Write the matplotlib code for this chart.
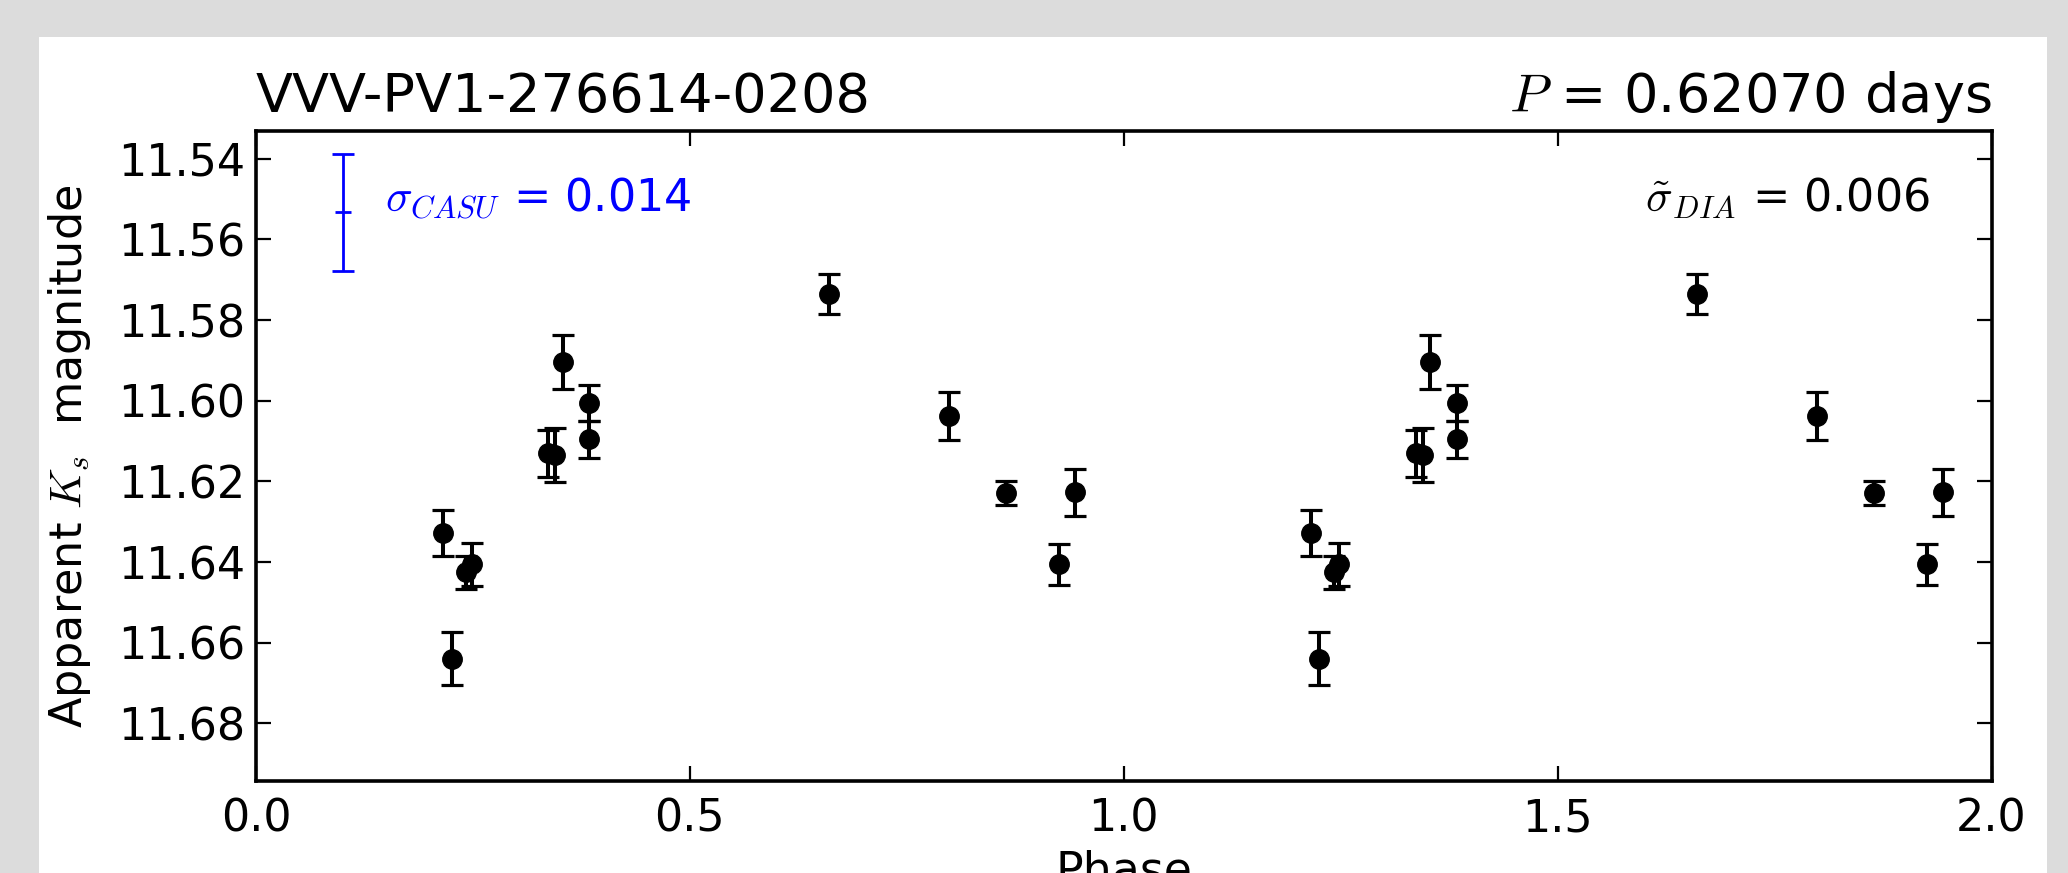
import numpy as np
import matplotlib
matplotlib.use("Agg")
import matplotlib.pyplot as plt
from matplotlib.patches import Rectangle

plt.rcParams['font.family'] = ['DejaVu Sans']
plt.rcParams['mathtext.fontset'] = 'cm'

# ---- data ----
phase = [0.2159, 0.2255, 0.2420, 0.2485, 0.3369, 0.3446, 0.3534,
         0.3837, 0.3837, 0.6607, 0.7986, 0.8643, 0.9253, 0.9438]
mag = [11.6328, 11.6640, 11.6425, 11.6406, 11.6130, 11.6134, 11.5904,
       11.6005, 11.6096, 11.5735, 11.6038, 11.6229, 11.6406, 11.6227]
err = [0.0056, 0.0066, 0.0041, 0.0054, 0.0058, 0.0067, 0.0066,
       0.0045, 0.0047, 0.0049, 0.0060, 0.0029, 0.0051, 0.0059]

casu_x = [0.10]
casu_y = [11.5532]
casu_err = [0.0145]

star_name = "VVV-PV1-276614-0208"
period_label = r"$P$ = 0.62070 days"
casu_label = r"$\sigma_{CASU}$ = 0.014"
dia_label = r"$\tilde{\sigma}_{DIA}$ = 0.006"
xticks = [0.0, 0.5, 1.0, 1.5, 2.0]
yticks = [11.54, 11.56, 11.58, 11.60, 11.62, 11.64, 11.66, 11.68]

# ---- figure ----
fig = plt.figure(figsize=(20.68, 8.73), dpi=100, facecolor='#dcdcdc')
fig.patches.append(Rectangle((39/2068, 0), (2047-39)/2068, 1-37/873,
                             transform=fig.transFigure, facecolor='white',
                             edgecolor='none', zorder=-10))
ax = fig.add_axes([256/2068, 1-781/873, (1991.6-256)/2068, (781-131)/873])

ph = np.array(phase)
ph_all = np.concatenate([ph, ph + 1.0])
mag_all = np.concatenate([mag, mag])
err_all = np.concatenate([err, err])

ax.errorbar(ph_all, mag_all, yerr=err_all, fmt='o', color='black',
            ms=14, elinewidth=2.9, capsize=8, capthick=2.3, zorder=3)
ax.errorbar(casu_x, casu_y, yerr=casu_err, fmt='_', color='#0000ff',
            ms=11.5, mew=2.0, elinewidth=2.0, capsize=8, capthick=2.0)

ax.set_xlim(0, 2)
ax.set_ylim(11.6943, 11.5331)
ax.set_xticks(xticks)
ax.set_xticklabels([f"{t:.1f}" for t in xticks])
ax.set_yticks(yticks)
ax.set_yticklabels([f"{t:.2f}" for t in yticks])

for s in ax.spines.values():
    s.set_linewidth(2.6)
ax.tick_params(direction='in', top=True, right=True, length=10.5, width=1.6,
               labelsize=32)
ax.tick_params(axis='x', pad=12)
ax.tick_params(axis='y', pad=8)

ax.text(0.0743, 0.897, casu_label, transform=ax.transAxes, color='#0000ff',
        fontsize=32, ha='left', va='center')
ax.text(0.9645, 0.897, dia_label, transform=ax.transAxes, color='black',
        fontsize=32, ha='right', va='center')

ax.set_title(star_name, loc='left', fontsize=39, pad=13.7)
ax.set_title(period_label, loc='right', fontsize=39, pad=13.7)

ax.set_xlabel("Phase", fontsize=33)
ax.xaxis.set_label_coords(0.5, -0.106)
ax.set_ylabel(r"Apparent $K_s$  magnitude", fontsize=32)
ax.yaxis.set_label_coords(-0.1075, 0.5)
ax.yaxis.label.set_va('center')

fig.savefig("out.png", dpi=100, facecolor=fig.get_facecolor())
